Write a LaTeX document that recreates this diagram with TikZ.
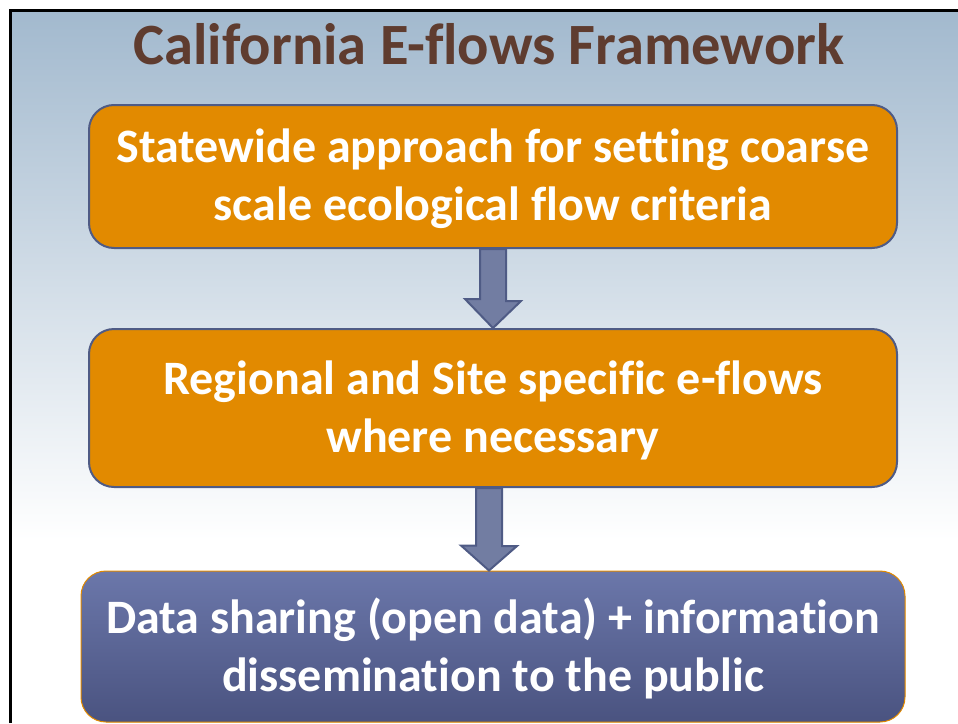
\documentclass[tikz,border=0pt]{standalone}
\usepackage{fontspec}
\setmainfont{Carlito}[Ligatures=NoCommon]
\usepackage{tikz}
\usetikzlibrary{positioning,calc}
\definecolor{orng}{HTML}{E28A00}
\definecolor{edgeblue}{HTML}{4F5B85}
\definecolor{arrowblue}{HTML}{727DA2}
\definecolor{titlebrown}{HTML}{5F3C2F}
\definecolor{bgtop}{HTML}{A2B9CE}
\definecolor{datatop}{HTML}{6B77AA}
\definecolor{databot}{HTML}{4A5380}

\begin{document}
\begin{tikzpicture}[x=1pt,y=-1pt,
  every node/.style={font=\bfseries\fontsize{48}{58}\selectfont,text=white,align=center},
  stage/.style={draw=edgeblue,line width=2pt,rounded corners=25pt,fill=orng,minimum width=808pt,text depth=3pt},
  blk/.style={draw=edgeblue,line width=2pt,fill=arrowblue,line join=miter}]
\useasboundingbox (0,0) rectangle (958,723);
\shade[top color=bgtop,bottom color=white] (10,10) rectangle (958,540);
\draw[line width=3pt] (10,723) -- (10,10) -- (958,10);
\node[anchor=base,text=titlebrown,font=\bfseries\fontsize{58.5}{60}\selectfont] (title) at (489,64) {California E-flows Framework};
\node[stage,minimum height=143pt] (s) at (493,176.5) {Statewide approach for setting coarse\\scale ecological flow criteria};
\node[stage,minimum height=158pt] (r) at (493,408) {Regional and Site specific e-flows\\where necessary};
\node[stage,draw=orng,line width=1pt,top color=datatop,bottom color=databot,minimum width=824pt,minimum height=151pt] (d) at (493,646.5) {Data sharing (open data) + information\\dissemination to the public};
\draw[blk] ($(s.south)+(-13,0)$) -- ++(26,0) -- ++(0,52) -- ++(15,0) -- (r.north) -- ++(-28,-29) -- ++(15,0) -- cycle;
\draw[blk] ($(r.south)+(-17,0)$) -- ++(26,0) -- ++(0,58) -- ++(15,0) -- ($(d.north)+(-4,0)$) -- ++(-28,-25) -- ++(15,0) -- cycle;
\end{tikzpicture}
\end{document}
